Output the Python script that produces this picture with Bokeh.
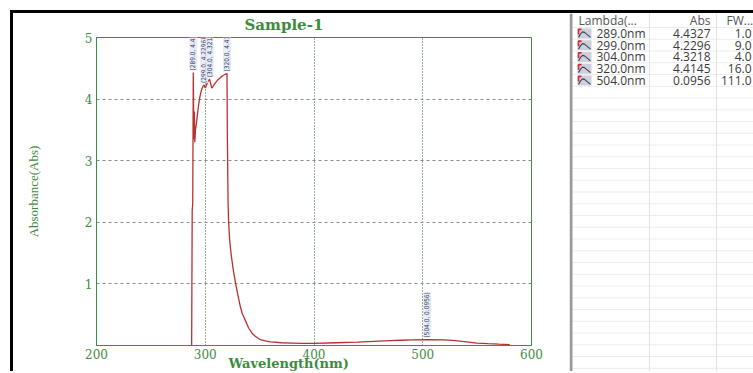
import math
from bokeh.plotting import figure
from bokeh.layouts import row
from bokeh.models import Range1d, FixedTicker, LabelSet, ColumnDataSource, Title
from bokeh.core.properties import value
from bokeh.embed import file_html
from bokeh.resources import INLINE

# ---------------- data ----------------
wavelength = [287.5, 288.0, 288.5, 289.0, 289.3, 289.6, 290.0, 290.4, 291.0, 292.0,
              293.0, 294.0, 295.0, 296.0, 297.0, 298.0, 299.0, 300.0, 301.0, 302.0,
              303.0, 304.0, 305.0, 306.0, 307.0, 308.0, 310.0, 312.0, 314.0, 316.0,
              318.0, 320.0, 320.3, 321.0, 321.5, 322.5, 324.0, 326.0, 328.0, 330.0,
              332.0, 334.0, 337.0, 340.0, 343.0, 346.0, 350.0, 355.0, 360.0, 370.0,
              380.0, 390.0, 400.0, 420.0, 440.0, 460.0, 470.0, 480.0, 490.0, 504.0,
              520.0, 530.0, 540.0, 550.0, 560.0, 570.0, 580.0]
absorbance = [0.0, 2.2, 2.3, 4.4327, 3.8, 3.35, 3.8, 3.3, 3.5, 3.62,
              3.78, 3.92, 4.03, 4.11, 4.17, 4.21, 4.2296, 4.18, 4.22, 4.27,
              4.30, 4.3218, 4.25, 4.18, 4.20, 4.23, 4.28, 4.32, 4.35, 4.38,
              4.40, 4.4145, 3.45, 2.3, 2.0, 1.7, 1.45, 1.2, 1.0, 0.82,
              0.65, 0.52, 0.40, 0.28, 0.20, 0.15, 0.10, 0.075, 0.06, 0.045,
              0.04, 0.035, 0.035, 0.045, 0.055, 0.07, 0.078, 0.085, 0.09, 0.0956,
              0.09, 0.08, 0.06, 0.04, 0.03, 0.022, 0.015]

peak_lambda = [289.0, 299.0, 304.0, 320.0, 504.0]
peak_abs = [4.4327, 4.2296, 4.3218, 4.4145, 0.0956]
peak_fwhm = [1.0, 9.0, 4.0, 16.0, 111.0]

x_ticks = [200, 300, 400, 500, 600]
y_ticks = [1, 2, 3, 4, 5]

title_text = "Sample-1"
x_label = "Wavelength(nm)"
y_label = "Absorbance(Abs)"
table_headers = ["Lambda(...", "Abs", "FW..."]

# ---------------- styles ----------------
GREEN = "#3d8b3d"
CURVE = "#b8302f"

p = figure(width=556, height=358, x_range=Range1d(200, 600), y_range=Range1d(0, 5),
           output_backend="svg", toolbar_location=None,
           min_border_left=83, min_border_right=38, min_border_top=24, min_border_bottom=26)
p.frame_align = False
p.background_fill_color = "white"
p.border_fill_color = "white"
p.outline_line_color = GREEN
p.outline_line_width = 1

p.title.text = title_text
p.title.align = "left"
p.title.offset = 148
p.title.vertical_align = "top"
p.title.standoff = 4
p.title.text_font = "DejaVu Serif"
p.title.text_font_style = "bold"
p.title.text_font_size = "15px"
p.title.text_color = GREEN

p.xaxis.ticker = FixedTicker(ticks=x_ticks)
p.yaxis.ticker = FixedTicker(ticks=y_ticks)
for ax in (p.xaxis[0], p.yaxis[0]):
    ax.axis_line_color = GREEN
    ax.major_tick_line_color = None
    ax.minor_tick_line_color = None
    ax.major_tick_out = 0
    ax.major_tick_in = 0
    ax.major_label_text_font = "DejaVu Serif"
    ax.major_label_text_font_size = "12px"
    ax.major_label_text_color = GREEN
    ax.major_label_standoff = 4
p.xaxis.major_label_standoff = 3

p.yaxis.axis_label = y_label
p.yaxis.axis_label_text_font = "Liberation Serif"
p.yaxis.axis_label_text_font_style = "normal"
p.yaxis.axis_label_text_font_size = "13px"
p.yaxis.axis_label_text_color = GREEN
p.yaxis.axis_label_standoff = 41

p.add_layout(Title(text=x_label, align="left", offset=132, vertical_align="top", standoff=-12,
                   text_font="DejaVu Serif", text_font_style="bold", text_font_size="13px",
                   text_color=GREEN), "below")

p.xgrid.ticker = FixedTicker(ticks=x_ticks[1:-1])
p.xgrid.grid_line_color = "#2a662a"
p.xgrid.grid_line_dash = "1 2"
p.xgrid.grid_line_width = 1
p.ygrid.ticker = FixedTicker(ticks=y_ticks[:-1])
p.ygrid.grid_line_color = "#8a8a8a"
p.ygrid.grid_line_dash = "3 3"
p.ygrid.grid_line_width = 1

p.line(wavelength, absorbance, line_color=CURVE, line_width=1.3)

peak_src = ColumnDataSource(dict(
    x=peak_lambda, y=peak_abs,
    t=["(%.1f, %.4f)" % (a, b) for a, b in zip(peak_lambda, peak_abs)]))
p.add_layout(LabelSet(x="x", y="y", text="t", source=peak_src, angle=math.pi / 2,
                      text_align="left", text_baseline="middle", y_offset=2,
                      text_font=value("Liberation Sans Narrow, DejaVu Sans Condensed, sans-serif"),
                      text_font_size="6.5px", text_color="#2b3a6b",
                      background_fill_color="#e6eaf3", background_fill_alpha=0.9))

# ---------------- table panel ----------------
TW, TH = 184, 358
t = figure(width=TW, height=TH, x_range=Range1d(0, TW), y_range=Range1d(TH, 0),
           output_backend="svg", toolbar_location=None,
           x_axis_location=None, y_axis_location=None, min_border=0)
t.frame_align = False
t.grid.visible = False
t.outline_line_color = None
t.background_fill_color = "white"
t.border_fill_color = "white"

row_h = 11.75
head_bottom = 14
nlines = int((TH - head_bottom) / row_h) + 1
ys_lines = [head_bottom + row_h * k for k in range(nlines)]
t.segment(x0=[3] * nlines, x1=[TW] * nlines, y0=ys_lines, y1=ys_lines,
          line_color="#ececec", line_width=1)
t.segment(x0=[80, 147], x1=[80, 147], y0=[0, 0], y1=[TH, TH], line_color="#e2e2e2", line_width=1)
t.quad(left=[0], right=[3], top=[0], bottom=[TH], fill_color="#9a9a9a", line_color=None)

tf = value("Open Sans")
FS = "12px"
t.text(x=[9], y=[7], text=[table_headers[0]], text_font=tf, text_font_size=FS,
       text_color="#555555", text_baseline="middle", text_align="left")
t.text(x=[141], y=[7], text=[table_headers[1]], text_font=tf, text_font_size=FS,
       text_color="#555555", text_baseline="middle", text_align="right")
t.text(x=[157], y=[7], text=[table_headers[2]], text_font=tf, text_font_size=FS,
       text_color="#555555", text_baseline="middle", text_align="left")

ry = [head_bottom + row_h * (i + 0.5) for i in range(len(peak_lambda))]
t.text(x=[27] * len(ry), y=ry, text=["%.1fnm" % v for v in peak_lambda], text_font=tf,
       text_font_size=FS, text_color="#3a3a3a", text_baseline="middle", text_align="left")
t.text(x=[141] * len(ry), y=ry, text=["%.4f" % v for v in peak_abs], text_font=tf,
       text_font_size=FS, text_color="#3a3a3a", text_baseline="middle", text_align="right")
t.text(x=[182] * len(ry), y=ry, text=["%.1f" % v for v in peak_fwhm], text_font=tf,
       text_font_size=FS, text_color="#3a3a3a", text_baseline="middle", text_align="right")

# peak icons
t.quad(left=[8] * len(ry), right=[22] * len(ry), top=[c - 5 for c in ry], bottom=[c + 5 for c in ry],
       fill_color="#cdd0dc", line_color=None)
t.multi_line(xs=[[9, 9, 12] for c in ry], ys=[[c + 1, c - 4, c - 4] for c in ry],
             line_color="#d8282a", line_width=1.6)
t.multi_line(xs=[[9, 11, 13, 15, 18, 21] for c in ry],
             ys=[[c + 4, c + 0.5, c - 1.5, c - 1, c + 1.5, c + 4] for c in ry],
             line_color="#3e4454", line_width=1.1)

layout = row(p, t, styles={"border-left": "3px solid black", "border-top": "3px solid black",
                           "margin-left": "10px", "margin-top": "10px"})

open("out.html", "w").write(file_html(layout, INLINE))
